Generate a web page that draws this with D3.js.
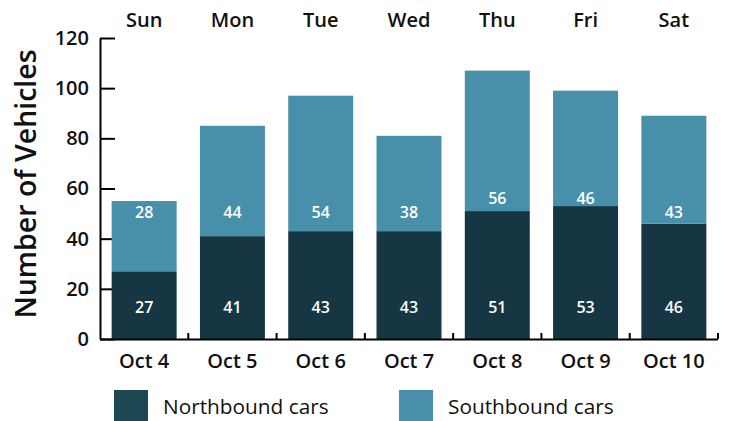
<!DOCTYPE html>
<html>
<head>
<meta charset="utf-8">
<script src="https://cdn.jsdelivr.net/npm/d3@7"></script>
<style>
  body { margin: 0; background: #fff; }
  text { font-family: "Open Sans", "Noto Sans", sans-serif; }
</style>
</head>
<body>
<svg width="730" height="421"></svg>
<script>
const dates = ['Oct 4', 'Oct 5', 'Oct 6', 'Oct 7', 'Oct 8', 'Oct 9', 'Oct 10'];
const days = ['Sun', 'Mon', 'Tue', 'Wed', 'Thu', 'Fri', 'Sat'];
const northbound = [27, 41, 43, 43, 51, 53, 46];
const southbound = [28, 44, 54, 38, 56, 46, 43];
const yTicks = [0, 20, 40, 60, 80, 100, 120];
const seriesNames = ['Northbound cars', 'Southbound cars'];

const dark = '#163643';
const light = '#488fa9';

const svg = d3.select('svg');

const x = d3.scaleBand()
    .domain(dates)
    .range([100, 718])
    .paddingInner(0.264)
    .paddingOuter(0.132);

const y = d3.scaleLinear()
    .domain([0, 120])
    .range([339, 38]);

const rows = dates.map((d, i) => ({ date: d, north: northbound[i], south: southbound[i] }));
const stacked = d3.stack().keys(['north', 'south'])(rows);
const color = d3.scaleOrdinal().domain(['north', 'south']).range([dark, light]);

// y axis, ticks pointing inward (drawn under bars)
svg.append('g')
    .attr('transform', 'translate(100,0)')
    .call(d3.axisLeft(y).tickValues(yTicks).tickSize(-15).tickSizeOuter(0).tickPadding(11))
    .call(g => g.selectAll('line').attr('stroke', '#000').attr('stroke-width', 2))
    .call(g => g.select('.domain').attr('stroke', '#000').attr('stroke-width', 2))
    .call(g => g.selectAll('text')
        .attr('font-size', 20)
        .attr('font-weight', 600)
        .attr('fill', '#111')
        .style('font-family', '"Open Sans", sans-serif'));

// bars
svg.append('g')
    .selectAll('g')
    .data(stacked)
    .join('g')
    .attr('fill', d => color(d.key))
    .selectAll('rect')
    .data(d => d)
    .join('rect')
    .attr('x', d => x(d.data.date))
    .attr('width', x.bandwidth())
    .attr('y', d => y(d[1]))
    .attr('height', d => y(d[0]) - y(d[1]));

// x axis line with ticks at band boundaries
const bounds = dates.map(d => x(d) - x.step() * x.paddingInner() / 2).slice(1)
    .concat([x.range()[1]]);
svg.append('line')
    .attr('x1', 100).attr('x2', x.range()[1])
    .attr('y1', y(0) + 0.5).attr('y2', y(0) + 0.5)
    .attr('stroke', '#000').attr('stroke-width', 2);
svg.append('g')
    .selectAll('line')
    .data(bounds)
    .join('line')
    .attr('x1', d => d).attr('x2', d => d)
    .attr('y1', y(0)).attr('y2', y(0) - 6)
    .attr('stroke', '#000').attr('stroke-width', 2);

// bottom date labels
svg.append('g')
    .attr('transform', `translate(0,${y(0)})`)
    .call(d3.axisBottom(x).tickSize(0).tickPadding(15))
    .call(g => g.select('.domain').remove())
    .call(g => g.selectAll('text')
        .attr('font-size', 20)
        .attr('font-weight', 600)
        .attr('fill', '#111')
        .style('font-family', '"Open Sans", sans-serif'));

// top day labels
svg.append('g')
    .selectAll('text')
    .data(days)
    .join('text')
    .attr('x', (d, i) => x(dates[i]) + x.bandwidth() / 2)
    .attr('y', 27)
    .attr('text-anchor', 'middle')
    .attr('font-size', 20)
    .attr('font-weight', 600)
    .attr('fill', '#111')
    .text(d => d);

// value labels
const northLevel = 12.4;
const southLevel = 50.6;
svg.append('g')
    .selectAll('text')
    .data(rows)
    .join('text')
    .attr('x', d => x(d.date) + x.bandwidth() / 2)
    .attr('y', y(northLevel))
    .attr('dy', '0.35em')
    .attr('text-anchor', 'middle')
    .attr('font-size', 16)
    .attr('font-weight', 600)
    .attr('fill', '#fff')
    .text(d => d.north);

svg.append('g')
    .selectAll('text')
    .data(rows)
    .join('text')
    .attr('x', d => x(d.date) + x.bandwidth() / 2)
    .attr('y', d => {
        const ly = y(southLevel);
        return y(d.north) < ly + 8 ? ly - 14 : ly;
    })
    .attr('dy', '0.35em')
    .attr('text-anchor', 'middle')
    .attr('font-size', 16)
    .attr('font-weight', 600)
    .attr('fill', '#fff')
    .text(d => d.south);

// y title
svg.append('text')
    .attr('transform', `translate(36,184) rotate(-90)`)
    .attr('text-anchor', 'middle')
    .attr('font-size', 28.5)
    .attr('font-weight', 600)
    .attr('fill', '#111')
    .text('Number of Vehicles');

// legend
const legendX = [114, 399];
const legend = svg.append('g')
    .selectAll('g')
    .data(seriesNames)
    .join('g')
    .attr('transform', (d, i) => `translate(${legendX[i]},390)`);
legend.append('rect')
    .attr('width', 34).attr('height', 34)
    .attr('fill', (d, i) => i === 0 ? '#1c4753' : light);
legend.append('text')
    .attr('x', 49)
    .attr('y', 24)
    .attr('font-size', 20.8)
    .attr('font-weight', 500)
    .attr('fill', '#111')
    .text(d => d);
</script>
</body>
</html>
